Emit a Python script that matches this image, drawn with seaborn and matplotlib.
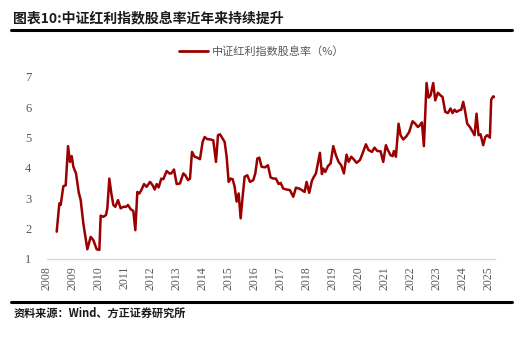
import matplotlib
matplotlib.use("Agg")
import matplotlib.pyplot as plt
from matplotlib.lines import Line2D
import seaborn as sns
import pandas as pd

# ---- data (decimal year, dividend yield %) ----
years = [
    2008.385, 2008.487, 2008.538, 2008.590, 2008.641, 2008.731, 2008.821, 2008.897, 2008.962,
    2009.026, 2009.128, 2009.231, 2009.308, 2009.410, 2009.564, 2009.692, 2009.795, 2009.923,
    2010.026, 2010.077, 2010.179, 2010.282, 2010.333, 2010.410, 2010.487, 2010.564, 2010.641,
    2010.744, 2010.846, 2010.949, 2011.051, 2011.128, 2011.231, 2011.333, 2011.410, 2011.487,
    2011.564, 2011.641, 2011.744, 2011.846, 2011.974, 2012.077, 2012.154, 2012.231, 2012.308,
    2012.410, 2012.487, 2012.615, 2012.718, 2012.795, 2012.897, 2013.000, 2013.128, 2013.256,
    2013.333, 2013.436, 2013.513, 2013.590, 2013.692, 2013.795, 2013.897, 2014.000, 2014.077,
    2014.179, 2014.308, 2014.410, 2014.513, 2014.590, 2014.667, 2014.744, 2014.846, 2014.923,
    2015.000, 2015.077, 2015.154, 2015.231, 2015.308, 2015.385, 2015.462, 2015.538, 2015.615,
    2015.718, 2015.821, 2015.949, 2016.026, 2016.103, 2016.179, 2016.268, 2016.396, 2016.512,
    2016.614, 2016.717, 2016.819, 2016.922, 2016.999, 2017.101, 2017.230, 2017.358, 2017.486,
    2017.588, 2017.717, 2017.819, 2017.922, 2017.999, 2018.101, 2018.204, 2018.281, 2018.358,
    2018.512, 2018.589, 2018.640, 2018.717, 2018.819, 2018.922, 2019.025, 2019.127, 2019.230,
    2019.332, 2019.435, 2019.537, 2019.614, 2019.717, 2019.819, 2019.922, 2020.050, 2020.153,
    2020.281, 2020.383, 2020.512, 2020.614, 2020.717, 2020.845, 2020.948, 2021.050, 2021.127,
    2021.230, 2021.307, 2021.358, 2021.435, 2021.537, 2021.614, 2021.717, 2021.845, 2021.948,
    2022.076, 2022.178, 2022.281, 2022.358, 2022.435, 2022.512, 2022.614, 2022.691, 2022.768,
    2022.871, 2022.948, 2023.050, 2023.153, 2023.230, 2023.332, 2023.435, 2023.537, 2023.614,
    2023.691, 2023.768, 2023.871, 2023.948, 2024.025, 2024.102, 2024.178, 2024.281, 2024.358,
    2024.461, 2024.537, 2024.614, 2024.691, 2024.794, 2024.871, 2024.948, 2025.050, 2025.101,
    2025.178, 2025.230,
]
yield_pct = [
    1.90, 2.83, 2.78, 3.10, 3.40, 3.43, 4.72, 4.20, 4.39,
    4.04, 3.82, 3.20, 2.94, 2.17, 1.32, 1.73, 1.62, 1.32,
    1.30, 2.43, 2.39, 2.45, 2.67, 3.65, 3.16, 2.78, 2.72,
    2.94, 2.67, 2.72, 2.72, 2.78, 2.64, 2.58, 1.95, 3.21,
    3.16, 3.27, 3.47, 3.38, 3.54, 3.43, 3.29, 3.47, 3.36,
    3.65, 3.63, 3.90, 3.82, 3.82, 3.95, 3.47, 3.49, 3.82,
    3.76, 3.60, 3.65, 4.53, 4.37, 4.34, 4.29, 4.86, 5.02,
    4.95, 4.94, 4.91, 4.20, 5.08, 5.11, 5.00, 4.86, 4.37,
    3.54, 3.65, 3.63, 3.38, 2.89, 3.16, 2.34, 3.05, 3.71,
    3.76, 3.54, 3.60, 3.82, 4.31, 4.34, 4.04, 4.02, 4.09,
    3.69, 3.65, 3.65, 3.47, 3.51, 3.32, 3.29, 3.27, 3.05,
    3.35, 3.32, 3.27, 3.21, 3.54, 3.18, 3.58, 3.71, 3.82,
    4.50, 3.80, 3.98, 3.87, 4.06, 4.15, 4.72, 4.42, 4.20,
    4.09, 3.82, 4.44, 4.20, 4.37, 4.28, 4.17, 4.26, 4.48,
    4.78, 4.59, 4.53, 4.67, 4.56, 4.55, 4.20, 4.75, 4.59,
    4.42, 4.39, 4.56, 4.37, 5.46, 5.08, 4.94, 5.05, 5.19,
    5.54, 5.46, 5.35, 5.41, 5.50, 4.72, 6.80, 6.32, 6.39,
    6.80, 6.23, 6.48, 6.39, 6.34, 5.85, 5.81, 5.96, 5.81,
    5.92, 5.85, 5.90, 5.92, 6.18, 5.85, 5.46, 5.35, 5.24,
    5.08, 5.79, 5.08, 5.11, 4.75, 5.02, 5.08, 5.00, 6.25,
    6.36, 6.34,
]
x_ticks = list(range(2008, 2026))
y_ticks = [1, 2, 3, 4, 5, 6, 7]
series_name = "中证红利指数股息率（%）"
title_text = "图表10:中证红利指数股息率近年来持续提升"
source_text = "资料来源：Wind、方正证券研究所"

df = pd.DataFrame({"year": years, "value": yield_pct, "series": series_name})

sns.set_theme(style="white")
plt.rcParams["font.family"] = ["Noto Sans CJK SC", "DejaVu Sans"]

fig = plt.figure(figsize=(5.27, 3.39), dpi=100)
ax = fig.add_axes([0.0886, 0.236, 0.9394 - 0.0886, 0.773 - 0.236])

sns.lineplot(data=df, x="year", y="value", hue="series", palette=["#9B0000"],
             linewidth=1.8, ax=ax, legend=False)

ax.set_xlim(2008, 2025.25)
ax.set_ylim(1, 7)
ax.set_xticks(x_ticks)
ax.set_xticklabels([str(t) for t in x_ticks], rotation=90,
                   family="Liberation Serif", fontsize=8.5, color="#595959")
ax.set_yticks(y_ticks)
ax.set_yticklabels([str(t) for t in y_ticks], family="Liberation Serif",
                   fontsize=9, color="#595959")
ax.set_xlabel("")
ax.set_ylabel("")
for s in ["top", "right", "left"]:
    ax.spines[s].set_visible(False)
ax.spines["bottom"].set_color("#d9d9d9")
ax.spines["bottom"].set_linewidth(1.0)
ax.tick_params(axis="x", direction="out", length=3, width=0.8, color="#d9d9d9", pad=2)
ax.tick_params(axis="y", length=0, pad=11)
ax.grid(False)

# legend
handle = Line2D([0], [0], color="#9B0000", lw=2)
fig.legend([handle], [series_name], loc="center", bbox_to_anchor=(0.497, 0.847),
           frameon=False, handlelength=2.6, handletextpad=0.4,
           prop={"family": ["Noto Sans CJK SC", "DejaVu Sans"], "size": 8},
           labelcolor="#595959")

# title, rules and source
fig.text(0.025, 0.947, title_text, fontsize=10, fontweight="bold", color="#1a1a1a",
         va="center", ha="left")
fig.add_artist(Line2D([0.021, 0.9715], [0.912, 0.912], transform=fig.transFigure,
                      color="black", lw=2.2))
fig.add_artist(Line2D([0.021, 0.9715], [0.110, 0.110], transform=fig.transFigure,
                      color="black", lw=2.2))
fig.text(0.025, 0.076, source_text, fontsize=8, color="#1a1a1a", va="center",
         ha="left", fontweight="bold")

fig.savefig("out.png", dpi=100)
